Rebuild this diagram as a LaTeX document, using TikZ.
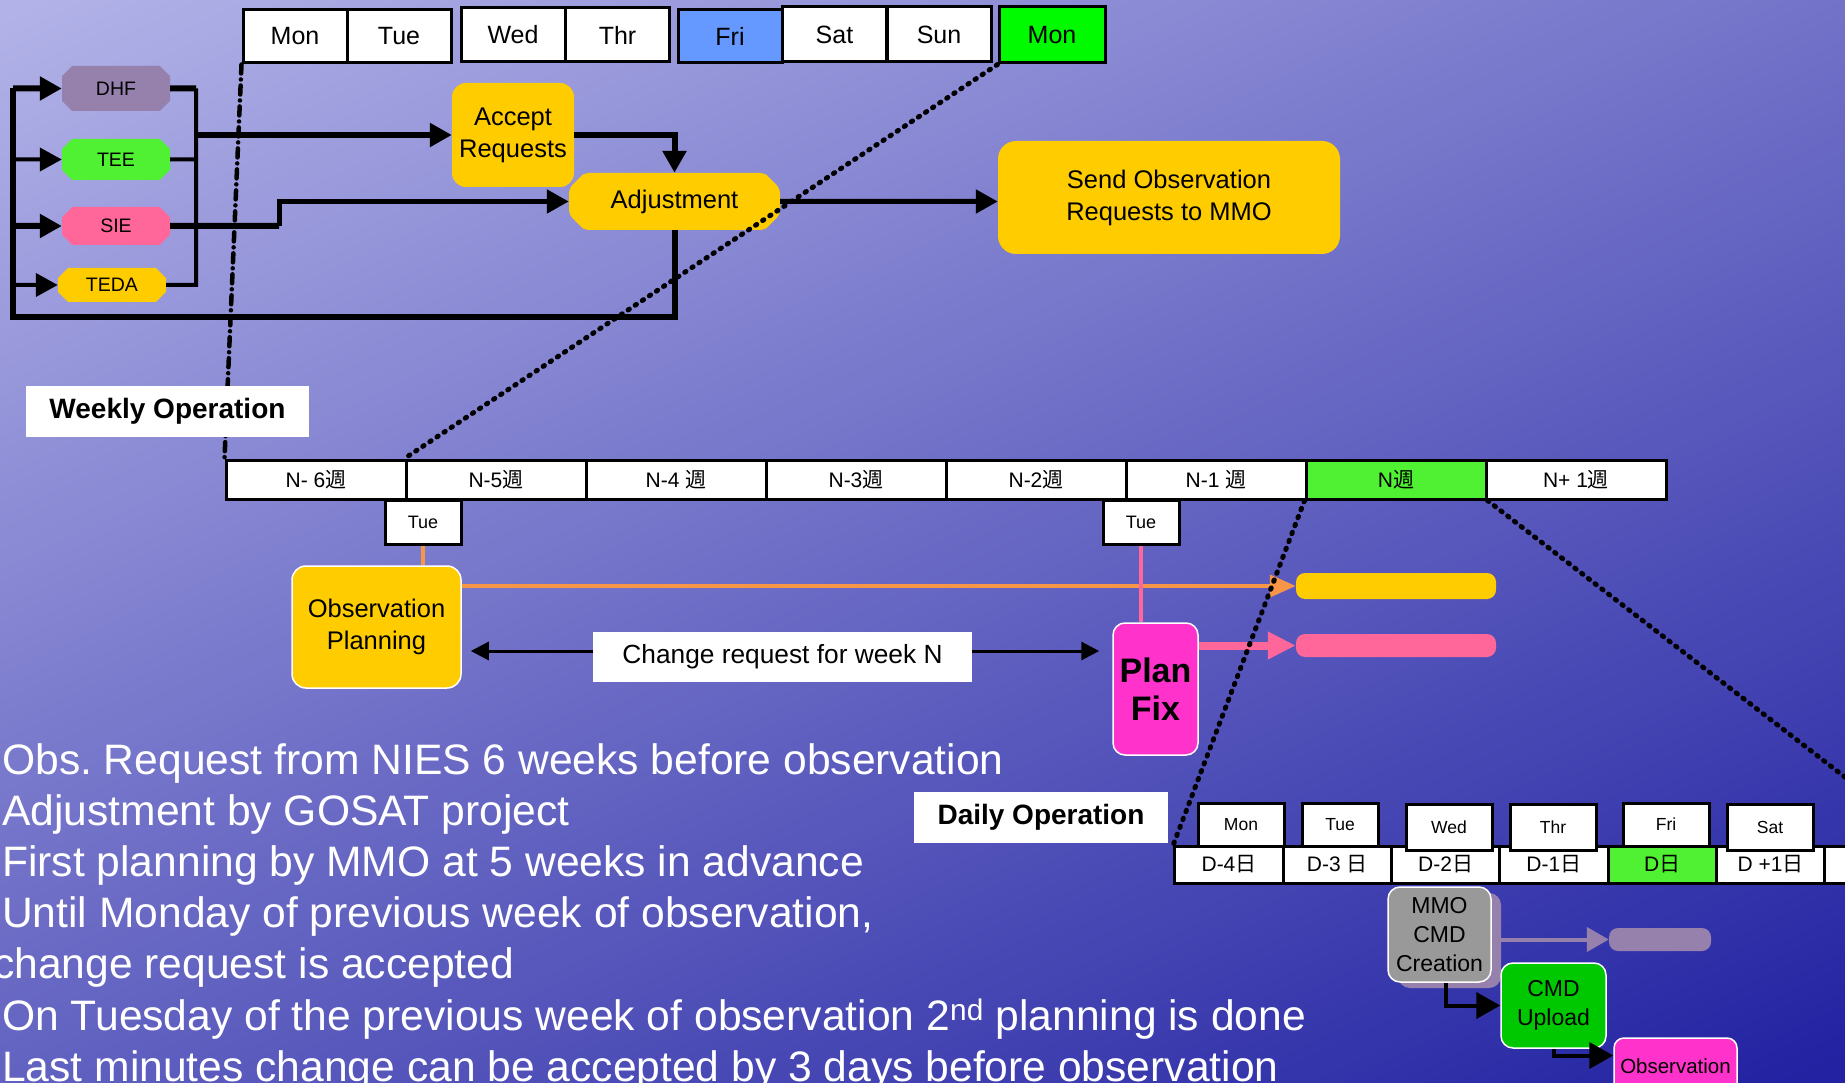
\documentclass[tikz,border=0pt]{standalone}
\usepackage{fontspec}
\setmainfont{Liberation Sans}
\newfontfamily\jp{Noto Sans CJK JP}
\usetikzlibrary{arrows.meta,shapes.misc,shadows}
\frenchspacing

\definecolor{bgtop}{RGB}{178,178,232}
\definecolor{bgmid}{RGB}{88,88,198}
\definecolor{bgbot}{RGB}{34,34,162}
\definecolor{gold}{RGB}{255,204,0}
\definecolor{limegreen}{RGB}{80,240,50}
\definecolor{brightgreen}{RGB}{0,250,0}
\definecolor{friblue}{RGB}{102,153,255}
\definecolor{siepink}{RGB}{255,102,153}
\definecolor{dhfpurple}{RGB}{150,128,172}
\definecolor{fixmagenta}{RGB}{255,51,204}
\definecolor{lineorange}{RGB}{247,150,70}
\definecolor{cmdgreen}{RGB}{0,200,0}
\definecolor{boxgray}{RGB}{153,153,153}

\tikzset{
  day/.style={draw, line width=3pt, fill=white, minimum width=104pt, minimum height=53pt,
    inner sep=0pt, font=\fontsize{25}{30}\selectfont},
  src/.style={chamfered rectangle, chamfered rectangle xsep=10pt, minimum width=108pt,
    inner sep=0pt, font=\fontsize{19.5}{24}\selectfont},
  wk/.style={draw, line width=3pt, fill=white, minimum width=180pt, minimum height=39pt,
    inner sep=0pt, font=\fontsize{21}{25}\selectfont},
  tuebox/.style={draw, line width=3pt, fill=white, minimum width=76pt, minimum height=44pt,
    inner sep=0pt, font=\fontsize{18}{22}\selectfont},
  dday/.style={draw, line width=3pt, fill=white, minimum width=108.3pt, minimum height=37pt,
    inner sep=0pt, font=\fontsize{21}{25}\selectfont},
  dwk/.style={draw, line width=3pt, fill=white, minimum width=86pt, minimum height=43pt,
    inner sep=0pt, font=\fontsize{17.5}{21}\selectfont},
  task/.style={rounded corners=14pt, fill=gold, align=center, inner sep=0pt,
    font=\fontsize{25.5}{32}\selectfont},
  wtask/.style={task, draw=white, line width=1.5pt},
  bar/.style={rounded corners=9pt, minimum width=200pt, inner sep=0pt},
  tag/.style={fill=white, inner sep=0pt, font=\fontsize{28}{32}\selectfont\bfseries},
  note/.style={anchor=base west, inner sep=0pt, text=white, font=\fontsize{42.6}{51}\selectfont},
  bus/.style={line width=6pt},
  thinbus/.style={line width=4pt},
  tip/.style={-{Triangle[length=22pt,width=23pt]}},
  ctip/.style={line width=3pt, -{Triangle[length=18pt,width=18pt]}},
  zoomdot/.style={line width=5pt, line cap=round, dash pattern=on 1.5pt off 7pt},
  zoomdash/.style={line width=4.5pt, line cap=round, dash pattern=on 9pt off 6pt on 0pt off 6pt}
}

\begin{document}
\begin{tikzpicture}[x=1pt,y=-1pt]
  \useasboundingbox (0,0) rectangle (1845,1083);
  \clip (0,0) rectangle (1845,1083);
  \shade[top color=bgtop, middle color=bgmid, bottom color=bgbot, shading angle=25]
    (-200,-200) rectangle (2045,1283);

  \node[day] (mon1) at (295,36.5) {Mon};
  \node[day] (tue1) at (399,36.5) {Tue};
  \node[day, minimum height=54pt] (wed1) at (513,35) {Wed};
  \node[day, minimum height=54pt] (thr1) at (617.5,35) {Thr};
  \node[day, fill=friblue] (fri1) at (730,36.5) {Fri};
  \node[day, minimum height=55pt] (sat1) at (834.5,34.5) {Sat};
  \node[day, minimum height=55pt] (sun1) at (939,34.5) {Sun};
  \node[day, fill=brightgreen, minimum width=106pt, minimum height=56pt] (mon2) at (1052,35) {Mon};

  \node[src, fill=dhfpurple, minimum height=45pt] (dhf) at (116,88.5) {DHF};
  \node[src, fill=limegreen, minimum height=41pt] (tee) at (116,159.5) {TEE};
  \node[src, fill=siepink, minimum height=38pt] (sie) at (116,226) {SIE};
  \node[src, fill=gold, minimum height=34pt] (teda) at (112,285) {TEDA};

  \node[task, minimum width=122pt, minimum height=104pt] (acc) at (513,135) {Accept\\Requests};
  \node[task, chamfered rectangle, chamfered rectangle xsep=12pt, rounded corners=5pt,
    minimum width=211pt, minimum height=57pt] (adj) at (674.5,201.5) {Adjustment};
  \node[task, rounded corners=18pt, minimum width=342pt, minimum height=113pt] (send)
    at (1169,197.5) {Send Observation\\Requests to MMO};

  \coordinate (lbus) at (13,317);
  \coordinate (rbus) at (196,88.5);
  \coordinate (sjog) at (279,226);

  \begin{scope}[line join=miter]
    \draw[bus] (adj.south) |- (lbus) -- (lbus |- dhf);
    \draw[bus,tip] (lbus |- dhf) -- (dhf);
    \draw[thinbus,tip] (lbus |- tee) -- (tee);
    \draw[bus,tip] (lbus |- sie) -- (sie);
    \draw[thinbus,tip] (lbus |- teda) -- (teda);
    \draw[bus] (dhf) -- (rbus);
    \draw[thinbus] (rbus) -- (rbus |- teda) -- (teda);
    \draw[thinbus] (tee) -- (rbus |- tee);
    \draw[bus] (sie) -- (sjog);
    \draw[line width=5pt,tip] (sjog) |- (adj);
    \draw[bus,tip] (rbus |- acc) -- (acc);
    \draw[bus,tip] (acc) -| (adj);
    \draw[line width=5pt,tip] (adj) -- (adj -| send.west);
  \end{scope}

  \node[wk] (w1) at (316,479.5) {N- 6{\jp 週}};
  \node[wk] (w2) at (496,479.5) {N-5{\jp 週}};
  \node[wk] (w3) at (676,479.5) {N-4 {\jp 週}};
  \node[wk] (w4) at (856,479.5) {N-3{\jp 週}};
  \node[wk] (w5) at (1036,479.5) {N-2{\jp 週}};
  \node[wk] (w6) at (1216,479.5) {N-1 {\jp 週}};
  \node[wk, fill=limegreen] (w7) at (1396,479.5) {N{\jp 週}};
  \node[wk] (w8) at (1576,479.5) {N+ 1{\jp 週}};

  \node[tuebox] (tueA) at (423,522) {Tue};
  \node[tuebox] (tueB) at (1141,522) {Tue};

  \node[wtask, minimum width=169pt, minimum height=122pt] (obsplan) at (376.5,627)
    {Observation\\Planning};
  \node[wtask, fill=fixmagenta, rounded corners=12pt, minimum width=85pt, minimum height=132pt,
    font=\fontsize{34}{38}\selectfont\bfseries] (planfix) at (1155.5,689) {Plan\\Fix};
  \node[bar, fill=gold, minimum height=26pt] (ybar) at (1396,586) {};
  \node[bar, fill=siepink, minimum height=23pt] (pbar) at (1396,645.5) {};

  \draw[lineorange, line width=4pt] (tueA) -- (tueA |- obsplan.north);
  \draw[lineorange, line width=4pt, -{Triangle[length=26pt,width=22pt]}] (obsplan.east |- ybar) -- (ybar);
  \draw[siepink, line width=4pt] (tueB) -- (tueB |- planfix.north);
  \draw[siepink, line width=8pt, -{Triangle[length=28pt,width=26pt]}] (planfix.east |- pbar) -- (pbar);

  \node[fill=white, minimum width=379pt, minimum height=50pt, inner sep=0pt,
    font=\fontsize{26.3}{30}\selectfont] (chg) at (782.5,657) {Change request for week N};
  \coordinate (chgl) at ([yshift=6pt]chg.west);
  \coordinate (chgr) at ([yshift=6pt]chg.east);
  \draw[ctip, shorten >=9pt] (chgl) -- (chgl -| obsplan.east);
  \draw[ctip, shorten >=13pt] (chgr) -- (chgr -| planfix.west);

  \node[dday] (dd1) at (1229,864.5) {D-4{\jp 日}};
  \node[dday] (dd2) at (1337.3,864.5) {D-3 {\jp 日}};
  \node[dday] (dd3) at (1445.6,864.5) {D-2{\jp 日}};
  \node[dday] (dd4) at (1553.9,864.5) {D-1{\jp 日}};
  \node[dday, fill=limegreen] (dd5) at (1662.2,864.5) {D{\jp 日}};
  \node[dday] (dd6) at (1770.5,864.5) {D +1{\jp 日}};
  \node[dday] (dd7) at (1878.8,864.5) {};

  \node[dwk] (m1) at (1241,824.5) {Mon};
  \node[dwk, minimum width=76pt] (m2) at (1340,824.5) {Tue};
  \node[dwk, minimum height=46pt] (m3) at (1449,827) {Wed};
  \node[dwk, minimum height=46pt] (m4) at (1553,827) {Thr};
  \node[dwk] (m5) at (1666,824.5) {Fri};
  \node[dwk, minimum height=46pt] (m6) at (1770,827) {Sat};

  \node[wtask, fill=boxgray, rounded corners=12pt, minimum width=103pt, minimum height=95pt,
    font=\fontsize{23}{29}\selectfont,
    drop shadow={shadow xshift=10pt, shadow yshift=-6pt, fill=dhfpurple, opacity=1}]
    (mmo) at (1439.5,934.5) {MMO\\CMD\\Creation};
  \node[bar, fill=dhfpurple, minimum width=102pt, minimum height=23pt] (pubar) at (1660,939.5) {};
  \node[wtask, fill=cmdgreen, rounded corners=12pt, minimum width=105pt, minimum height=85pt,
    font=\fontsize{23}{29}\selectfont] (cmdup) at (1553.5,1005.5) {CMD\\Upload};
  \node[wtask, fill=fixmagenta, rounded corners=10pt, minimum width=123pt, minimum height=57pt,
    font=\fontsize{20.5}{24}\selectfont] (obsv) at (1675.5,1066.5) {Observation};

  \draw[dhfpurple, line width=4pt, -{Triangle[length=22pt,width=24pt]}] (mmo.east |- pubar) -- (pubar);
  \coordinate (mmoout) at ([xshift=6pt]mmo.south);
  \coordinate (obsin) at ([yshift=11pt]obsv.west);
  \draw[thinbus, -{Triangle[length=24pt,width=26pt]}] (mmoout) |- (cmdup);
  \draw[thinbus, -{Triangle[length=24pt,width=26pt]}] (cmdup) |- (obsin);

  \coordinate (dend) at (1934,846);
  \draw[zoomdash] (mon1.south west) -- (w1.north west);
  \draw[zoomdot] (mon2.south west) -- (w2.north west);
  \draw[zoomdot] (w7.south west) -- (dd1.north west);
  \draw[zoomdot] (w7.south east) -- (dend);

  \node[tag, minimum width=283pt, minimum height=51pt] (weekly) at (167.5,411.5) {Weekly Operation};
  \node[tag, minimum width=254pt, minimum height=51pt] (daily) at (1041,817.5) {Daily Operation};

  \node[note] (l1) at (2,774) {Obs. Request from NIES 6 weeks before observation};
  \node[note] (l2) at (2,825.2) {Adjustment by GOSAT project};
  \node[note] (l3) at (2,876.4) {First planning by MMO at 5 weeks in advance};
  \node[note] (l4) at (2,927.6) {Until Monday of previous week of observation,};
  \node[note] (l5) at (-7,978.8) {change request is accepted};
  \node[note] (l6) at (2,1030) {On Tuesday of the previous week of observation 2\textsuperscript{nd} planning is done};
  \node[note] (l7) at (2,1081.2) {Last minutes change can be accepted by 3 days before observation};
\end{tikzpicture}
\end{document}
